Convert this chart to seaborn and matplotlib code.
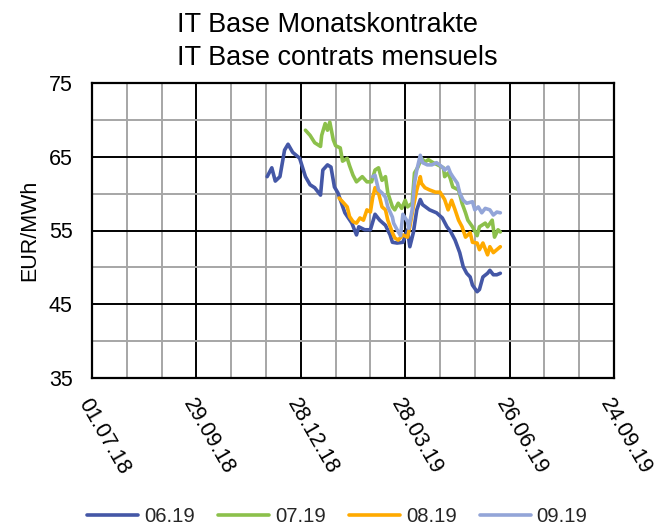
import numpy as np
import pandas as pd
import matplotlib
matplotlib.use("Agg")
import matplotlib.pyplot as plt
import matplotlib.dates as mdates
from matplotlib.ticker import FixedLocator
import seaborn as sns

sns.set_theme(style="white")
plt.rcParams['font.family'] = ['Liberation Sans', 'DejaVu Sans']

# ---- data ----
d_0619 = ["2018-11-29","2018-12-03","2018-12-06","2018-12-10","2018-12-14","2018-12-17","2018-12-21","2018-12-27",
          "2019-01-01","2019-01-05","2019-01-09","2019-01-14","2019-01-16","2019-01-20","2019-01-23","2019-01-26",
          "2019-01-29","2019-02-04","2019-02-10","2019-02-14","2019-02-16","2019-02-21","2019-02-26","2019-03-02",
          "2019-03-06","2019-03-11","2019-03-15","2019-03-17","2019-03-21","2019-03-26","2019-03-30","2019-04-01",
          "2019-04-04","2019-04-07","2019-04-10","2019-04-12","2019-04-18","2019-04-24","2019-04-29","2019-05-03",
          "2019-05-06","2019-05-10","2019-05-14","2019-05-17","2019-05-20","2019-05-23","2019-05-25","2019-05-29",
          "2019-05-31","2019-06-03","2019-06-07","2019-06-09","2019-06-12","2019-06-15","2019-06-18"]
v_0619 = [62.3,63.5,61.7,62.3,65.9,66.7,65.6,64.8,
          62.3,61.2,60.8,59.8,63.2,63.9,63.6,60.9,
          60.1,57.4,56.0,54.4,55.5,55.1,55.1,57.2,
          56.4,55.7,54.4,53.4,53.3,53.4,55.1,52.8,
          54.7,57.8,59.2,58.5,57.8,57.4,56.7,55.5,
          54.9,53.7,52.0,50.1,49.2,48.7,47.6,46.7,
          47.0,48.7,49.2,49.6,49.0,49.0,49.2]

d_0719 = ["2019-01-01","2019-01-05","2019-01-09","2019-01-14","2019-01-15","2019-01-18","2019-01-20","2019-01-22",
          "2019-01-25","2019-01-27","2019-01-31","2019-02-02","2019-02-06","2019-02-08","2019-02-11","2019-02-14",
          "2019-02-19","2019-02-23","2019-02-27","2019-03-02","2019-03-05","2019-03-08","2019-03-11","2019-03-13",
          "2019-03-17","2019-03-19","2019-03-22","2019-03-25","2019-03-28","2019-03-30","2019-04-03","2019-04-05",
          "2019-04-08","2019-04-11","2019-04-14","2019-04-17","2019-04-21","2019-04-25","2019-04-30","2019-05-01",
          "2019-05-04","2019-05-06","2019-05-08","2019-05-13","2019-05-16","2019-05-19","2019-05-21","2019-05-25",
          "2019-05-29","2019-05-31","2019-06-05","2019-06-07","2019-06-11","2019-06-13","2019-06-16","2019-06-18"]
v_0719 = [68.6,67.9,66.9,66.4,67.9,69.5,68.6,69.7,
          67.3,66.5,66.2,64.4,64.8,63.8,62.5,61.6,
          62.3,61.6,61.6,63.2,63.5,61.8,62.3,60.1,
          58.2,57.8,58.7,58.0,59.1,58.2,58.7,62.8,
          63.6,64.8,64.3,64.6,64.2,63.9,63.5,62.3,
          62.8,62.0,60.9,60.5,58.7,57.4,56.4,55.5,
          54.3,55.5,56.0,55.5,56.4,54.1,55.1,54.8]

d_0819 = ["2019-01-30","2019-02-02","2019-02-06","2019-02-08","2019-02-11","2019-02-14","2019-02-17","2019-02-20",
          "2019-02-23","2019-02-26","2019-02-28","2019-03-02","2019-03-05","2019-03-08","2019-03-11","2019-03-13",
          "2019-03-17","2019-03-19","2019-03-22","2019-03-26","2019-03-30","2019-04-01","2019-04-04","2019-04-07",
          "2019-04-10","2019-04-11","2019-04-14","2019-04-18","2019-04-23","2019-04-27","2019-05-01","2019-05-04",
          "2019-05-07","2019-05-10","2019-05-13","2019-05-16","2019-05-19","2019-05-23","2019-05-25","2019-05-29",
          "2019-05-31","2019-06-03","2019-06-07","2019-06-09","2019-06-12","2019-06-15","2019-06-18"]
v_0819 = [59.4,58.9,58.2,56.9,56.2,56.0,56.7,56.4,
          57.8,57.5,59.5,60.8,60.1,58.2,57.8,56.4,
          54.7,54.0,53.7,54.4,54.1,55.5,58.2,60.5,
          62.3,61.4,60.8,60.5,60.2,60.2,59.2,57.8,
          59.1,57.8,56.4,55.5,54.1,54.7,53.4,53.3,
          52.4,53.3,51.7,52.8,52.0,52.4,52.8]

d_0919 = ["2019-02-28","2019-03-02","2019-03-05","2019-03-08","2019-03-11","2019-03-13","2019-03-17","2019-03-18",
          "2019-03-21","2019-03-24","2019-03-26","2019-03-30","2019-03-31","2019-04-03","2019-04-05","2019-04-07",
          "2019-04-10","2019-04-12","2019-04-16","2019-04-20","2019-04-24","2019-04-29","2019-05-01","2019-05-04",
          "2019-05-06","2019-05-08","2019-05-12","2019-05-14","2019-05-17","2019-05-20","2019-05-25","2019-05-27",
          "2019-05-30","2019-06-02","2019-06-05","2019-06-09","2019-06-12","2019-06-15","2019-06-18"]
v_0919 = [62.3,62.5,60.5,60.1,59.5,58.2,56.8,56.0,
          55.1,54.3,57.2,56.2,55.3,57.8,61.4,63.2,
          65.2,64.2,63.9,63.9,64.2,63.6,63.2,63.6,
          62.8,62.3,61.4,60.1,59.1,58.7,58.9,57.8,
          58.2,57.4,58.0,57.8,57.1,57.5,57.4]

series_names = ["06.19", "07.19", "08.19", "09.19"]
colors = ["#4457A6", "#8CC04B", "#FFAA00", "#93A5D8"]

x_ticks = ["2018-07-01", "2018-09-29", "2018-12-28", "2019-03-28", "2019-06-26", "2019-09-24"]
x_tick_labels = ["01.07.18", "29.09.18", "28.12.18", "28.03.19", "26.06.19", "24.09.19"]
y_ticks = [35, 45, 55, 65, 75]

frames = []
for name, d, v in zip(series_names, [d_0619, d_0719, d_0819, d_0919], [v_0619, v_0719, v_0819, v_0919]):
    frames.append(pd.DataFrame({"date": pd.to_datetime(d), "value": v, "contract": name}))
df = pd.concat(frames, ignore_index=True)

fig = plt.figure(figsize=(6.63, 5.29), dpi=100)
ax = fig.add_axes([92/663, 1-378/529, (614-92)/663, (378-83)/529])

sns.lineplot(data=df, x="date", y="value", hue="contract", palette=dict(zip(series_names, colors)),
             linewidth=2.6, ax=ax, legend=True, zorder=5)

major = pd.to_datetime(x_ticks)
minor = []
for a in major[:-1]:
    minor += [a + pd.Timedelta(days=30), a + pd.Timedelta(days=60)]
ax.set_xlim(major[0], major[-1])
ax.xaxis.set_major_locator(FixedLocator(mdates.date2num(major)))
ax.xaxis.set_minor_locator(FixedLocator(mdates.date2num(minor)))
ax.set_xticklabels(x_tick_labels)

ax.set_ylim(35, 75)
ax.set_yticks(y_ticks)
ax.set_yticks([40, 50, 60, 70], minor=True)

ax.grid(which="major", color="black", linewidth=1.4)
ax.grid(which="minor", color="#A6A6A6", linewidth=1.4)
ax.set_axisbelow(True)
for s in ax.spines.values():
    s.set_color("black")
    s.set_linewidth(1.6)

ax.tick_params(axis="x", which="both", length=0, labelsize=15.5, pad=12)
ax.tick_params(axis="y", which="both", length=0, labelsize=15.5, pad=14)
for lab in ax.get_xticklabels():
    lab.set_rotation(-60)
    lab.set_ha("left")
    lab.set_va("top")
    lab.set_rotation_mode("anchor")
    lab.set_color("black")
for lab in ax.get_yticklabels():
    lab.set_color("black")

ax.set_xlabel("")
ax.set_ylabel("EUR/MWh", fontsize=15.5, color="black", labelpad=6)

fig.text(177/663, 1-32/529, "IT Base Monatskontrakte", ha="left", va="baseline", fontsize=19.5, color="black")
fig.text(177/663, 1-65/529, "IT Base contrats mensuels", ha="left", va="baseline", fontsize=19.5, color="black")

h, l = ax.get_legend_handles_labels()
ax.legend_.remove()
fig.legend(h, l, loc="center", bbox_to_anchor=(337.5/663, 1-517/529), ncol=4, frameon=False,
           fontsize=14.6, handlelength=2.5, columnspacing=1.15, handletextpad=0.3,
           borderpad=0.0, borderaxespad=0.0)

fig.savefig("out.png", dpi=100)
